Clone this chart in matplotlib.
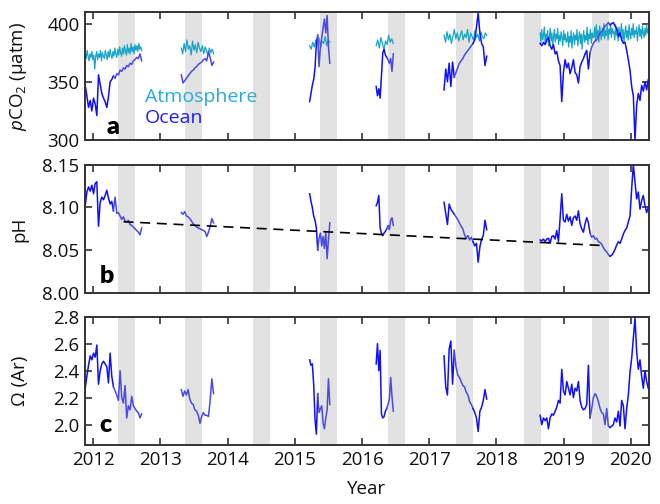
import numpy as np
import matplotlib.pyplot as plt

plt.rcParams['font.family'] = ['Open Sans', 'DejaVu Sans']
plt.rcParams['mathtext.fontset'] = 'custom'
plt.rcParams['mathtext.rm'] = 'Open Sans'
plt.rcParams['mathtext.it'] = 'Open Sans:italic'

# deployment windows (decimal year), one entry per season
season_start = [2011.88, 2013.31, 2015.22, 2016.21, 2017.22, 2018.65]
season_end = [2012.72, 2013.79, 2015.52, 2016.465, 2017.855, 2020.26]

# grey summer bands
summer_start = [2012.37, 2013.37, 2014.38, 2015.38, 2016.39, 2017.40, 2018.41, 2019.42]
summer_len = 0.25

# parts of the ocean record drawn in the lighter blue
light_spans = [(2012.30, 2012.75), (2013.30, 2013.80), (2015.35, 2015.55),
               (2016.37, 2016.50), (2017.38, 2017.66), (2019.40, 2019.68)]

pco2_atm = [
    [375, 370, 377, 372, 368, 374, 371, 376, 369, 373, 361, 372, 376, 369, 374,
     371, 377, 368, 375, 372, 370, 377, 373, 369, 376, 371, 378, 373, 370, 376,
     372, 379, 374, 371, 378, 373, 380, 375, 372, 379, 374, 381, 376, 373, 382,
     375, 379, 374, 383, 376, 380, 374, 382, 377, 381, 376, 383, 378, 380, 377],
    [379, 374, 383, 376, 386, 378, 381, 373, 385, 377, 382, 375, 384, 379, 376,
     381, 374, 380, 377, 372, 379, 375, 378, 374],
    [381, 378, 384, 380, 386, 382, 388, 379, 385, 383, 389, 381, 386, 384],
    [381, 386, 379, 388, 383, 378, 385, 382, 390, 384, 387, 383],
    [390, 384, 393, 386, 391, 383, 389, 395, 387, 392, 385, 390, 394, 386, 391,
     388, 395, 384, 392, 389, 386, 394, 388, 391, 385, 393, 389, 387, 392, 390],
    [392, 384, 395, 386, 390, 397, 383, 391, 386, 394, 381, 388, 396, 385, 392,
     382, 389, 395, 384, 391, 387, 396, 382, 390, 385, 393, 388, 381, 394, 386,
     391, 384,
     385, 393, 380, 389, 384, 394, 379, 388, 392, 382, 390, 386, 395, 381, 388,
     393, 383, 391, 378, 389, 394, 384, 390, 386, 397, 382, 391, 387, 395, 383,
     392, 388,
     389, 397, 385, 399, 388, 394, 384, 398, 391, 386, 396, 389, 400, 387, 394,
     390, 398, 386, 395, 391, 399, 388, 396, 392,
     393, 386, 399, 390, 395, 385, 397, 389, 393, 400, 387, 395, 384, 392, 398,
     388, 394, 386, 399, 391, 387, 396, 390, 400, 388, 394, 391, 397, 385, 393,
     399, 389, 395, 387, 398, 392, 388, 396, 390, 399, 392, 395],
]

pco2_ocean = [
    [347, 338, 328, 334, 325, 336, 331, 321, 356, 348, 340, 336, 333, 328, 337,
     350, 352, 355, 353, 357, 356, 360, 359, 362, 361, 364, 363, 366, 365, 368,
     369, 371, 370, 374, 368],
    [356, 349, 351, 353, 355, 357, 359, 360, 362, 363, 365, 366, 367, 369, 370,
     368, 376, 371, 364, 367],
    [333, 340, 347, 352, 362, 383, 390, 363, 380, 388, 396, 404, 392, 407, 380, 366],
    [346, 338, 344, 336, 355, 375, 378, 373, 371, 369, 366, 370, 359, 374],
    [343, 361, 350, 366, 346, 367, 354, 358, 362, 366, 368, 370, 373, 375, 377,
     379, 381, 383, 386, 397, 409, 392, 383, 380, 364, 372],
    [383, 381, 384, 382, 386, 388, 381, 378, 382, 374, 376, 368, 364, 333, 358,
     369, 362, 366, 357, 362, 369, 358, 356, 349, 363, 367, 370, 374, 377, 361,
     375, 380, 383, 385, 386, 389, 392, 393, 395, 398, 399, 401, 399, 400, 401,
     398, 396, 389, 392, 386, 383, 384, 377, 369, 360, 346, 338, 300, 330, 340,
     334, 347, 342, 350, 343, 352],
]

ph_ocean = [
    [8.102, 8.118, 8.124, 8.119, 8.126, 8.116, 8.128, 8.130, 8.078, 8.106,
     8.112, 8.109, 8.114, 8.120, 8.111, 8.104, 8.107, 8.096, 8.112, 8.093,
     8.094, 8.090, 8.086, 8.089, 8.084, 8.083, 8.085, 8.080, 8.079, 8.077,
     8.075, 8.073, 8.071, 8.068, 8.076],
    [8.094, 8.092, 8.095, 8.090, 8.089, 8.087, 8.084, 8.081, 8.079, 8.077,
     8.076, 8.075, 8.074, 8.073, 8.072, 8.066, 8.071, 8.078, 8.087, 8.082],
    [8.116, 8.107, 8.100, 8.090, 8.085, 8.076, 8.050, 8.064, 8.070, 8.055,
     8.066, 8.052, 8.071, 8.040, 8.062, 8.082],
    [8.102, 8.106, 8.114, 8.076, 8.070, 8.067, 8.070, 8.072, 8.075, 8.079,
     8.074, 8.085, 8.088, 8.079],
    [8.106, 8.093, 8.080, 8.104, 8.098, 8.095, 8.092, 8.089, 8.086, 8.082,
     8.078, 8.075, 8.068, 8.064, 8.067, 8.062, 8.065, 8.060, 8.055, 8.058,
     8.036, 8.054, 8.063, 8.067, 8.085, 8.074],
    [8.062, 8.061, 8.063, 8.060, 8.063, 8.064, 8.058, 8.066, 8.067, 8.063,
     8.073, 8.060, 8.087, 8.116, 8.085, 8.083, 8.092, 8.084, 8.089, 8.079,
     8.088, 8.090, 8.085, 8.096, 8.081, 8.075, 8.071, 8.081, 8.088, 8.082,
     8.070, 8.065, 8.067, 8.063, 8.064, 8.060, 8.059, 8.057, 8.053, 8.050,
     8.048, 8.045, 8.043, 8.044, 8.047, 8.051, 8.056, 8.060, 8.058, 8.063,
     8.069, 8.073, 8.076, 8.083, 8.090, 8.122, 8.150, 8.130, 8.110, 8.118,
     8.098, 8.108, 8.114, 8.102, 8.094, 8.100],
]

omega_ar = [
    [2.27, 2.36, 2.44, 2.51, 2.48, 2.53, 2.50, 2.59, 2.30, 2.40, 2.45, 2.47,
     2.45, 2.43, 2.31, 2.53, 2.36, 2.28, 2.25, 2.22, 2.18, 2.40, 2.20, 2.16,
     2.29, 2.05, 2.14, 2.11, 2.21, 2.14, 2.12, 2.10, 2.09, 2.05, 2.08],
    [2.26, 2.21, 2.25, 2.22, 2.26, 2.19, 2.16, 2.15, 2.11, 2.10, 2.07, 2.01,
     2.06, 2.09, 2.07, 2.07, 2.06, 2.18, 2.34, 2.23],
    [2.48, 2.44, 2.45, 2.30, 2.04, 1.93, 2.23, 2.09, 2.12, 2.14, 2.01, 1.97,
     2.05, 2.11, 2.34, 2.15],
    [2.45, 2.60, 2.40, 2.55, 2.08, 2.05, 2.06, 2.10, 2.12, 2.15, 2.19, 2.35,
     2.21, 2.10],
    [2.51, 2.28, 2.22, 2.56, 2.62, 2.30, 2.55, 2.43, 2.37, 2.35, 2.32, 2.29,
     2.28, 2.24, 2.22, 2.17, 2.15, 2.12, 2.09, 2.05, 1.95, 2.10, 2.13, 2.18,
     2.26, 2.19],
    [2.07, 2.00, 2.05, 2.03, 2.05, 1.97, 2.05, 2.08, 2.07, 2.10, 2.13, 2.18,
     2.16, 2.41, 2.25, 2.22, 2.32, 2.27, 2.22, 2.30, 2.20, 2.27, 2.25, 2.32,
     2.18, 2.13, 2.11, 2.12, 2.15, 2.44, 2.05, 2.12, 2.20, 2.23, 2.21, 2.17,
     2.12, 2.09, 2.08, 2.00, 2.12, 1.99, 1.98, 1.99, 2.00, 2.05, 2.02, 2.10,
     1.99, 2.18, 2.14, 1.97, 2.12, 2.22, 2.39, 2.49, 2.64, 2.79, 2.54, 2.41,
     2.48, 2.36, 2.27, 2.40, 2.32, 2.27],
]

trend_years = [2012.45, 2019.55]
trend_ph = [8.0833, 8.0556]
year_ticks = [2012, 2013, 2014, 2015, 2016, 2017, 2018, 2019, 2020]

BLUE = '#1010fa'
LIGHT = '#4a4ae4'
ATM = '#19a5c8'
BAND = '#e2e2e2'
SPINE = '#333333'


def in_light(t):
    return any(a <= t <= b for a, b in light_spans)


def draw_series(ax, series, color=None, lw=1.1, z=3):
    for t0, t1, vals in zip(season_start, season_end, series):
        t = np.linspace(t0, t1, len(vals))
        v = np.asarray(vals, dtype=float)
        if color is not None:
            ax.plot(t, v, color=color, lw=lw, zorder=z)
            continue
        mid = (t[:-1] + t[1:]) / 2
        flags = [in_light(m) for m in mid]
        i = 0
        while i < len(flags):
            j = i
            while j < len(flags) and flags[j] == flags[i]:
                j += 1
            ax.plot(t[i:j + 1], v[i:j + 1], color=LIGHT if flags[i] else BLUE,
                    lw=lw, zorder=z)
            i = j


def style(ax, ylim, yticks, ylabel):
    for s in summer_start:
        ax.axvspan(s, s + summer_len, color=BAND, lw=0, zorder=0)
    ax.set_xlim(2011.877, 2020.27)
    ax.set_ylim(*ylim)
    ax.set_yticks(yticks)
    ax.set_xticks(year_ticks)
    ax.tick_params(direction='in', length=5, width=1.2, top=True, right=True,
                   labelsize=13.5, colors='#111111', pad=4)
    ax.tick_params(axis='both', color=SPINE)
    for sp in ax.spines.values():
        sp.set_color(SPINE)
        sp.set_linewidth(1.4)
    ax.set_ylabel(ylabel, fontsize=13.5, color='#111111')


fig = plt.figure(figsize=(6.6, 5.04), dpi=100)
ax_a = fig.add_axes([0.1288, 0.7222, 0.8545, 0.254])
ax_b = fig.add_axes([0.1288, 0.4187, 0.8545, 0.2546])
ax_c = fig.add_axes([0.1288, 0.1171, 0.8545, 0.2546])

# a: pCO2
style(ax_a, (300, 410), [300, 350, 400], r'$\it{p}$CO$_2$ (µatm)')
draw_series(ax_a, pco2_ocean, lw=1.1, z=3)
draw_series(ax_a, pco2_atm, color=ATM, lw=0.9, z=2)
ax_a.text(0.106, 0.299, 'Atmosphere', transform=ax_a.transAxes, color='#26aae2',
          fontsize=14, va='baseline')
ax_a.text(0.106, 0.13, 'Ocean', transform=ax_a.transAxes, color='#1f1ffa',
          fontsize=14, va='baseline')
ax_a.tick_params(labelbottom=False)

# b: pH
style(ax_b, (8.0, 8.15), [8.00, 8.05, 8.10, 8.15], 'pH')
ax_b.yaxis.set_major_formatter(plt.FormatStrFormatter('%.2f'))
draw_series(ax_b, ph_ocean)
ax_b.plot(trend_years, trend_ph, color='black', lw=1.2, ls=(0, (6, 4)), zorder=4)
ax_b.tick_params(labelbottom=False)

# c: Omega aragonite
style(ax_c, (1.85, 2.8), [2.0, 2.2, 2.4, 2.6, 2.8], 'Ω (Ar)')
ax_c.yaxis.set_major_formatter(plt.FormatStrFormatter('%.1f'))
draw_series(ax_c, omega_ar)
ax_c.set_xlabel('Year', fontsize=13.5, color='#111111', labelpad=8)

for ax, lab, x, y in [(ax_a, 'a', 0.038, 0.047), (ax_b, 'b', 0.027, 0.076),
                      (ax_c, 'c', 0.025, 0.099)]:
    ax.text(x, y, lab, transform=ax.transAxes, fontsize=18, fontweight='heavy',
            family=['Lato', 'DejaVu Sans'], va='baseline', ha='left', zorder=6)

for ax in (ax_a, ax_b, ax_c):
    ax.yaxis.set_label_coords(-0.1, 0.5)

fig.savefig('out.png', dpi=100)
